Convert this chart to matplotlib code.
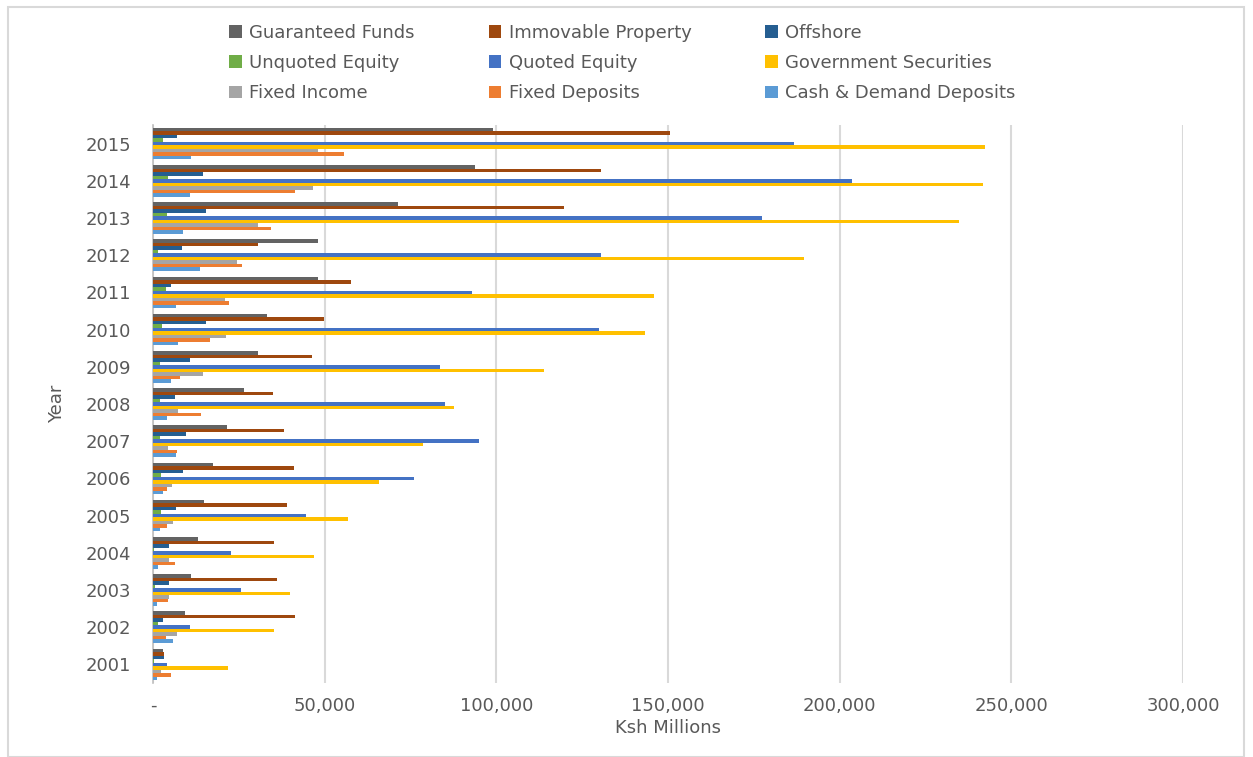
import numpy as np
import matplotlib
matplotlib.use("Agg")
import matplotlib.pyplot as plt
from matplotlib.patches import Rectangle, Patch
from matplotlib.ticker import FuncFormatter

years = [2001, 2002, 2003, 2004, 2005, 2006, 2007, 2008,
         2009, 2010, 2011, 2012, 2013, 2014, 2015]

guaranteed_funds = [2900, 9200, 11200, 13000, 14900, 17500, 21500, 26400,
                    30600, 33200, 48100, 48100, 71500, 93900, 99000]
immovable_property = [3300, 41400, 36100, 35300, 39100, 41000, 38300, 35000,
                      46200, 49900, 57800, 30600, 119700, 130500, 150600]
offshore = [3300, 2900, 4800, 4800, 6600, 8800, 9600, 6300,
            10800, 15300, 5100, 8500, 15300, 14500, 7000]
unquoted_equity = [300, 1500, 700, 300, 2200, 2200, 1900, 1900,
                   1900, 2500, 3700, 1400, 4100, 4500, 3000]
quoted_equity = [4100, 10800, 25700, 22700, 44700, 76000, 95100, 85000,
                 83500, 130000, 92800, 130500, 177500, 203500, 186800]
government_securities = [21900, 35300, 39900, 47000, 56700, 65900, 78600, 87600,
                         113800, 143200, 145800, 189700, 234900, 241900, 242400]
fixed_income = [2200, 7000, 4800, 4800, 5900, 5500, 4500, 7400,
                14500, 21200, 20900, 24600, 30600, 46600, 48000]
fixed_deposits = [5100, 3700, 4500, 6300, 4100, 4100, 7000, 14100,
                  7800, 16700, 22000, 26000, 34300, 41400, 55500]
cash_demand = [1100, 5900, 1100, 1500, 1900, 2900, 6600, 4100,
               5100, 7400, 6600, 13800, 8800, 10800, 11000]

series = [
    ("Guaranteed Funds", guaranteed_funds, "#636363"),
    ("Immovable Property", immovable_property, "#9E480E"),
    ("Offshore", offshore, "#255E91"),
    ("Unquoted Equity", unquoted_equity, "#70AD47"),
    ("Quoted Equity", quoted_equity, "#4472C4"),
    ("Government Securities", government_securities, "#FFC000"),
    ("Fixed Income", fixed_income, "#A5A5A5"),
    ("Fixed Deposits", fixed_deposits, "#ED7D31"),
    ("Cash & Demand Deposits", cash_demand, "#5B9BD5"),
]

plt.rcParams["font.family"] = ["DejaVu Sans"]
txt = "#595959"

fig = plt.figure(figsize=(12.53, 7.57), dpi=100)
ax = fig.add_axes([0.1221, 0.0978, 0.8220, 0.7371])

# chart frame
fig.patches.append(Rectangle((8 / 1253, 0.0), 1236 / 1253, 750 / 757,
                             transform=fig.transFigure, fill=False,
                             edgecolor="#D9D9D9", linewidth=1.5))

ypos = np.arange(len(years))
h = 0.094
n = len(series)
for i, (name, vals, col) in enumerate(series):
    ax.barh(ypos + (n // 2 - i) * h, vals, height=h, color=col,
            label=name, zorder=3)

ax.set_xlim(0, 300000)
ax.set_ylim(-0.5, len(years) - 0.5)
ax.set_yticks(ypos)
ax.set_yticklabels([str(y) for y in years], fontsize=13, color=txt)
ax.set_xticks(np.arange(0, 300001, 50000))
ax.xaxis.set_major_formatter(FuncFormatter(
    lambda v, p: "-" if v == 0 else f"{int(v):,}"))
ax.tick_params(axis="x", length=0, labelsize=13, labelcolor=txt, pad=10)
ax.tick_params(axis="y", length=0, pad=16)
ax.grid(axis="x", color="#D9D9D9", linewidth=1.5, zorder=0)
for s in ["top", "right", "bottom"]:
    ax.spines[s].set_visible(False)
ax.spines["left"].set_color("#BFBFBF")
ax.spines["left"].set_linewidth(1.2)
ax.set_axisbelow(True)

ax.set_xlabel("Ksh Millions", fontsize=13, color=txt, labelpad=3)
ax.set_ylabel("Year", fontsize=13, color=txt, labelpad=14)

# legend filled row by row, three columns
handles = [Patch(facecolor=c, label=nm) for nm, _, c in series]
order = [0, 3, 6, 1, 4, 7, 2, 5, 8]
fig.legend([handles[k] for k in order], [handles[k].get_label() for k in order],
           ncol=3, loc="upper left", bbox_to_anchor=(0.170, 0.990),
           frameon=False, fontsize=13, labelcolor=txt,
           handlelength=0.7, handleheight=0.7, handletextpad=0.4,
           columnspacing=4.1, labelspacing=0.68)

fig.savefig("out.png", dpi=100)
